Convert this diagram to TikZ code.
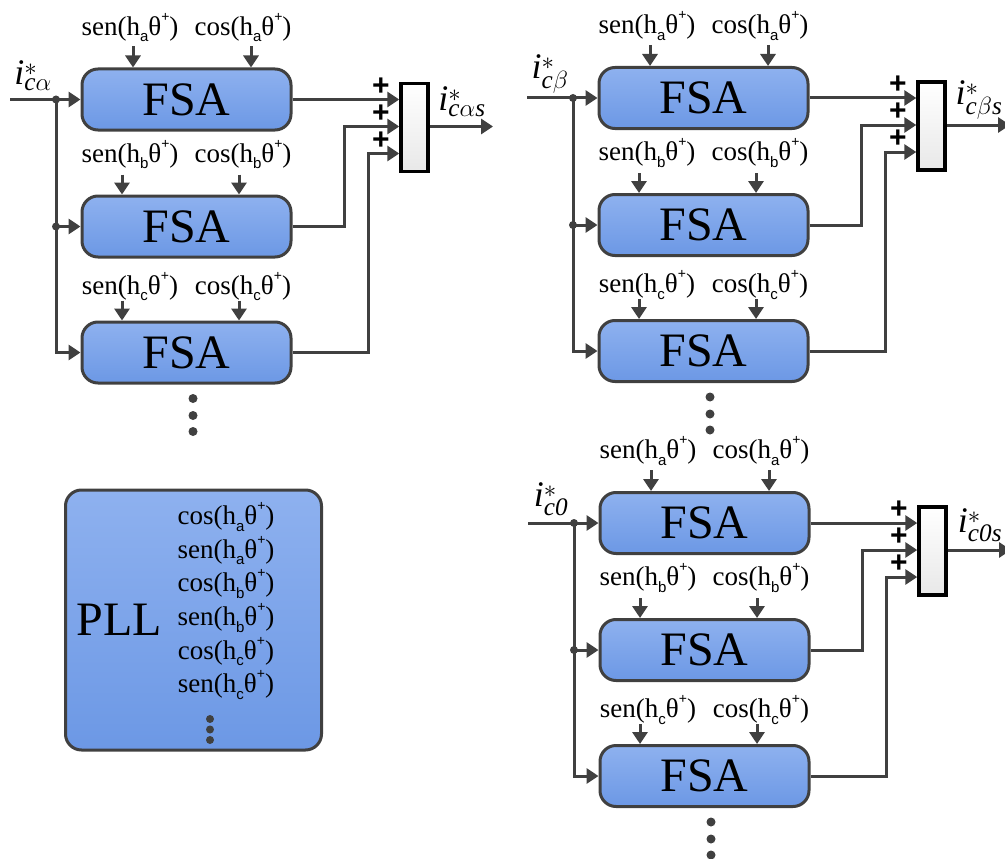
\documentclass[tikz,border=0pt]{standalone}
\usepackage{fontspec}
\setmainfont{Liberation Serif}
\setsansfont{Liberation Sans}
\usetikzlibrary{arrows.meta}
\definecolor{ln}{RGB}{64,64,64}
\definecolor{ftop}{RGB}{142,177,239}
\definecolor{fbot}{RGB}{108,152,229}
\newcommand{\hsub}[2]{#1(h\raisebox{-0.24em}{\fontsize{15}{15}\selectfont\sffamily #2}θ\raisebox{0.52em}{\fontsize{14}{14}\selectfont\sffamily +})}
\tikzset{
 fsa/.style={draw=ln, line width=3pt, rounded corners=16pt, top color=ftop, bottom color=fbot,
   minimum width=209pt, minimum height=61pt, inner sep=0pt, font=\fontsize{48}{52}\selectfont},
 lbl/.style={inner sep=0pt, font=\fontsize{27}{30}\selectfont},
 wire/.style={draw=ln, line width=3pt},
 arr/.style={wire, -{Triangle[length=12pt,width=15pt]}},
 sumbox/.style={draw=black, line width=3.5pt, top color=white, bottom color=black!9,
   minimum width=27pt, minimum height=88pt, inner sep=0pt},
 plus/.style={inner sep=0pt, font=\fontsize{30}{30}\selectfont\sffamily\bfseries},
 jdot/.style={circle, fill=ln, inner sep=0pt, minimum size=8pt},
 bigdot/.style={circle, fill=ln, inner sep=0pt, minimum size=9pt},
 cur/.style={inner sep=0pt, font=\fontsize{36}{40}\selectfont},
}
\newcommand{\fsamod}[5]{%
\begin{scope}[shift={(#2,#3)}]
\node[fsa] (#1f1) at (104.5,0) {FSA};
\node[fsa] (#1f2) at (104.5,127) {FSA};
\node[fsa] (#1f3) at (104.5,253) {FSA};
\node[lbl] (#1la) at (48,-72) {\hsub{sen}{a}};
\node[lbl] (#1ca) at (161,-72) {\hsub{cos}{a}};
\node[lbl] (#1lb) at (48,55) {\hsub{sen}{b}};
\node[lbl] (#1cb) at (161,55) {\hsub{cos}{b}};
\node[lbl] (#1lc) at (48,187) {\hsub{sen}{c}};
\node[lbl] (#1cc) at (161,187) {\hsub{cos}{c}};
\coordinate (#1pa1) at (51,-53);
\coordinate (#1pa2) at (169,-53);
\coordinate (#1pb1) at (40,75);
\coordinate (#1pb2) at (157,75);
\coordinate (#1pc1) at (40,201);
\coordinate (#1pc2) at (157,201);
\draw[arr] (#1pa1) -- (#1pa1 |- #1f1.north);
\draw[arr] (#1pa2) -- (#1pa2 |- #1f1.north);
\draw[arr] (#1pb1) -- (#1pb1 |- #1f2.north);
\draw[arr] (#1pb2) -- (#1pb2 |- #1f2.north);
\draw[arr] (#1pc1) -- (#1pc1 |- #1f3.north);
\draw[arr] (#1pc2) -- (#1pc2 |- #1f3.north);
\coordinate (#1in) at (-72,0);
\node[jdot] (#1j1) at (-26,0) {};
\node[jdot] (#1j2) at (-26,127) {};
\draw[arr] (#1in) -- (#1f1.west);
\draw[arr] (#1j1.center) |- (#1f3.west);
\draw[arr] (#1j2.center) -- (#1f2.west);
\node[cur] (#1il) at (-49,-24) {$#4$};
\node[sumbox] (#1s) at (332.5,28) {};
\coordinate (#1k2) at (262,27);
\coordinate (#1k3) at (286,54);
\draw[arr] (#1f1.east) -- (#1f1.east -| #1s.west);
\draw[arr] (#1f2.east) -| (#1k2) -- (#1k2 -| #1s.west);
\draw[arr] (#1f3.east) -| (#1k3) -- (#1k3 -| #1s.west);
\node[plus] (#1p1) at (299,-13) {+};
\node[plus] (#1p2) at (299,14) {+};
\node[plus] (#1p3) at (299,41) {+};
\coordinate (#1out) at (411,27);
\draw[arr] (#1s.east |- #1out) -- (#1out);
\node[cur] (#1ol) at (380,2) {$#5$};
\node[bigdot] (#1d1) at (111,299) {};
\node[bigdot] (#1d2) at (111,316) {};
\node[bigdot] (#1d3) at (111,332) {};
\end{scope}}
\begin{document}
\begin{tikzpicture}[x=1pt,y=-1pt]
\useasboundingbox (0,0) rectangle (1005,859);
\fsamod{L}{82}{99.5}{\mathit{i}^{*}_{\mathit{c}\alpha}}{\mathit{i}^{*}_{\mathit{c}\alpha\mathit{s}}}
\fsamod{B}{599}{98}{\mathit{i}^{*}_{\mathit{c}\beta}}{\mathit{i}^{*}_{\mathit{c}\beta\mathit{s}}}
\fsamod{Z}{600}{523}{\mathit{i}^{*}_{\mathit{c0}}}{\mathit{i}^{*}_{\mathit{c0s}}}
% PLL
\node[fsa, minimum width=256pt, minimum height=260pt] (pll) at (193.5,620) {};
\node[inner sep=0pt, font=\fontsize{48}{52}\selectfont] (plltxt) at (119,620) {PLL};
\node[lbl] (r1) at (226,517) {\hsub{cos}{a}};
\node[lbl] (r2) at (226,550.6) {\hsub{sen}{a}};
\node[lbl] (r3) at (226,584.2) {\hsub{cos}{b}};
\node[lbl] (r4) at (226,617.8) {\hsub{sen}{b}};
\node[lbl] (r5) at (226,651.4) {\hsub{cos}{c}};
\node[lbl] (r6) at (226,685) {\hsub{sen}{c}};
\node[bigdot, minimum size=8pt] (pd1) at (210,719) {};
\node[bigdot, minimum size=8pt] (pd2) at (210,729.5) {};
\node[bigdot, minimum size=8pt] (pd3) at (210,740) {};
\end{tikzpicture}
\end{document}
